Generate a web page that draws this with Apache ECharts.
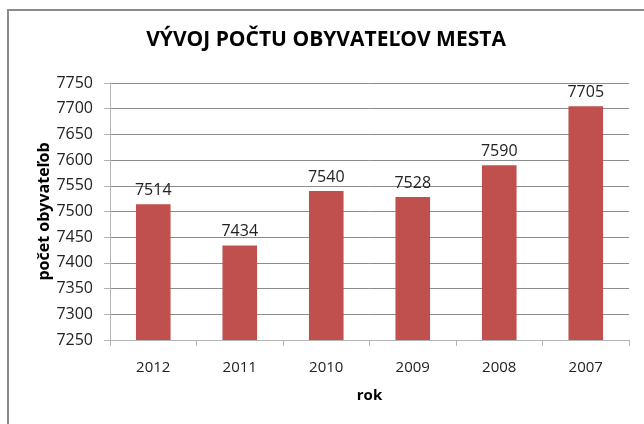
<!DOCTYPE html>
<html>
<head>
<meta charset="utf-8">
<script src="https://cdn.jsdelivr.net/npm/echarts@6/dist/echarts.min.js"></script>
<style>html,body{margin:0;padding:0;background:#fff;}#c{width:644px;height:424px;}</style>
</head>
<body>
<div id="c"></div>
<script>
const categories = ['2012', '2011', '2010', '2009', '2008', '2007'];
const values = [7514, 7434, 7540, 7528, 7590, 7705];
const titleText = 'VÝVOJ POČTU OBYVATEĽOV MESTA';
const yName = 'počet obyvateľob';
const xName = 'rok';
const FONT = '"Open Sans", "DejaVu Sans", sans-serif';

const chart = echarts.init(document.getElementById('c'), null, {renderer: 'canvas'});
chart.setOption({
  animation: false,
  backgroundColor: '#fff',
  graphic: [
    {type: 'rect', shape: {x: 8, y: 10, width: 660, height: 440}, style: {fill: 'none', stroke: '#8a8a8a', lineWidth: 2}, z: 0},
    {type: 'text', x: 326, y: 40, style: {text: titleText, font: 'bold 21px ' + FONT, fill: '#000', textAlign: 'center', textVerticalAlign: 'middle'}}
  ],
  grid: {left: 110, right: 15, top: 83, bottom: 84},
  xAxis: {
    type: 'category',
    data: categories,
    name: xName,
    nameLocation: 'middle',
    nameGap: 48,
    nameTextStyle: {fontFamily: FONT, fontWeight: 'bold', fontSize: 15, color: '#000'},
    axisLine: {lineStyle: {color: '#b5b5b5', width: 1}},
    axisTick: {show: true, length: 6, alignWithLabel: false, lineStyle: {color: '#b5b5b5'}},
    axisLabel: {fontFamily: FONT, fontSize: 15, color: '#222', margin: 20}
  },
  yAxis: {
    type: 'value',
    min: 7250,
    max: 7750,
    interval: 50,
    name: yName,
    nameLocation: 'middle',
    nameGap: 58,
    nameMoveOverlap: false,
    nameRotate: 90,
    nameTextStyle: {fontFamily: FONT, fontWeight: 'bold', fontSize: 16, color: '#000'},
    axisLine: {show: true, lineStyle: {color: '#b5b5b5'}},
    axisTick: {show: true, length: 6, lineStyle: {color: '#b5b5b5'}},
    axisLabel: {fontFamily: FONT, fontSize: 16, color: '#222', margin: 17, formatter: function (v) { return String(v); }},
    splitLine: {lineStyle: {color: '#8c8c8c', width: 1}}
  },
  series: [{
    type: 'bar',
    data: values,
    barWidth: '40%',
    itemStyle: {color: '#C0504D'},
    label: {show: true, position: 'top', distance: 6, fontFamily: FONT, fontSize: 16, color: '#222'}
  }]
});
</script>
</body>
</html>
